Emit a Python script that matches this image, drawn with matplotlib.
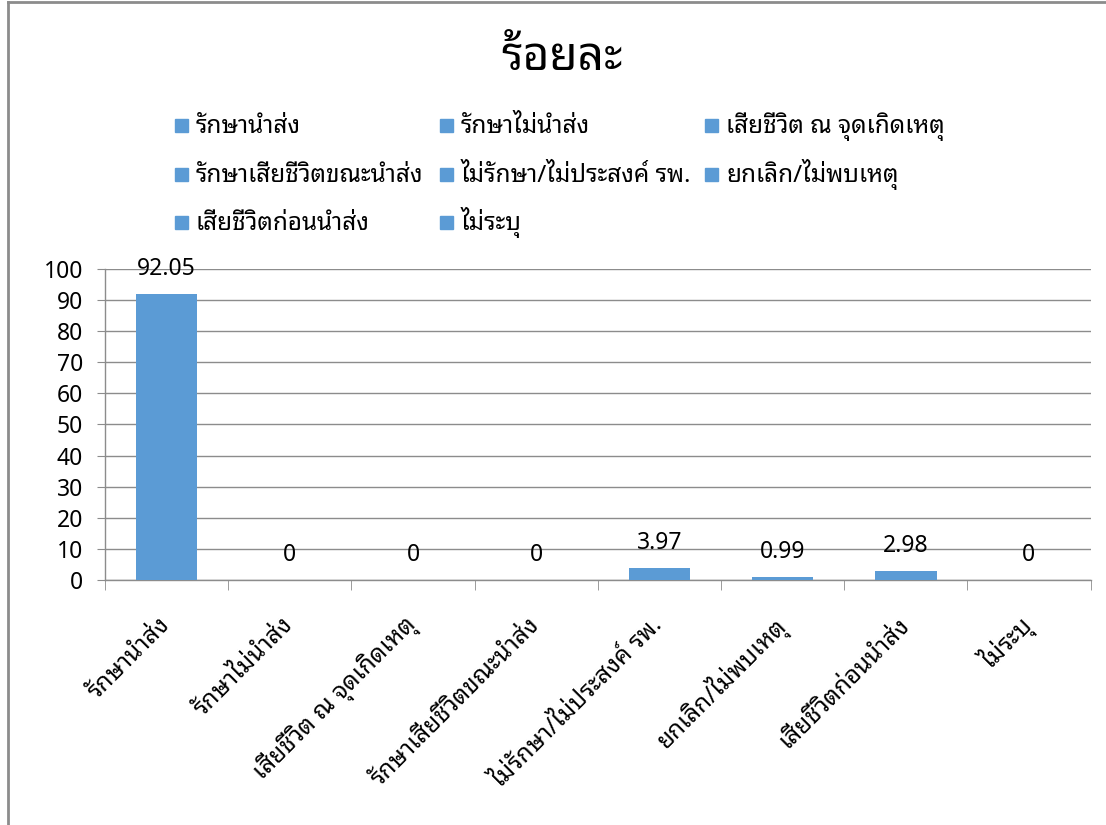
import matplotlib
matplotlib.use("Agg")
import matplotlib.pyplot as plt
from matplotlib.lines import Line2D
from matplotlib.patches import Rectangle

plt.rcParams["font.family"] = ["Noto Sans", "Noto Sans Thai Looped", "DejaVu Sans"]

categories = ["รักษานำส่ง", "รักษาไม่นำส่ง", "เสียชีวิต ณ จุดเกิดเหตุ",
              "รักษาเสียชีวิตขณะนำส่ง", "ไม่รักษา/ไม่ประสงค์ รพ.", "ยกเลิก/ไม่พบเหตุ",
              "เสียชีวิตก่อนนำส่ง", "ไม่ระบุ"]
values = [92.05, 0, 0, 0, 3.97, 0.99, 2.98, 0]
value_labels = ["92.05", "0", "0", "0", "3.97", "0.99", "2.98", "0"]
title = "ร้อยละ"

blue = "#5b9bd5"
grey = "#8c8c8c"
W, H = 1106, 825

fig = plt.figure(figsize=(W / 100, H / 100), dpi=100)
ax = fig.add_axes([0.095, 0.297, 0.891, 0.377])

x = list(range(len(categories)))
ax.bar(x, values, width=0.5, color=blue, zorder=3)
for i in x:
    ax.annotate(value_labels[i], (i, values[i]), xytext=(0, 9), textcoords="offset points",
                ha="center", va="bottom", fontsize=16.5, zorder=4)

ax.set_xlim(-0.5, len(categories) - 0.5)
ax.set_ylim(0, 100)
ax.set_yticks(range(0, 101, 10))
ax.tick_params(axis="y", labelsize=16.5, length=6, color=grey, pad=10)
ax.yaxis.grid(True, color=grey, linewidth=1)
ax.set_axisbelow(True)

ax.set_xticks(x)
ax.set_xticklabels(categories, rotation=45, ha="right", va="center", rotation_mode="anchor", fontsize=17.5)
ax.tick_params(axis="x", length=0, pad=30)
ax.set_xticks([i + 0.5 for i in range(-1, len(categories))], minor=True)
ax.tick_params(axis="x", which="minor", length=7, color=grey)

for s in ["top", "right"]:
    ax.spines[s].set_visible(False)
for s in ["left", "bottom"]:
    ax.spines[s].set_color(grey)
    ax.spines[s].set_linewidth(1)

fig.text(0.508, 0.93, title, ha="center", va="center", fontsize=33, fontweight="bold",
         family=["Noto Sans Thai Looped", "DejaVu Sans"])

# legend laid out row by row like the original
col_x = [175, 440, 705]
row_y = [126, 175, 223]
for i, cat in enumerate(categories):
    r, c = divmod(i, 3)
    px, py = col_x[c], row_y[r]
    fig.add_artist(Rectangle((px / W, 1 - (py + 6) / H), 13 / W, 13 / H,
                             transform=fig.transFigure, color=blue))
    fig.text((px + 21) / W, 1 - (py + 7) / H, cat, ha="left", va="baseline", fontsize=17.5)

# outer chart border
fig.add_artist(Line2D([0.0075, 0.0075], [0, 0.997], transform=fig.transFigure, color=grey, linewidth=2))
fig.add_artist(Line2D([0.0075, 1], [0.997, 0.997], transform=fig.transFigure, color=grey, linewidth=2))

fig.savefig("out.png")
